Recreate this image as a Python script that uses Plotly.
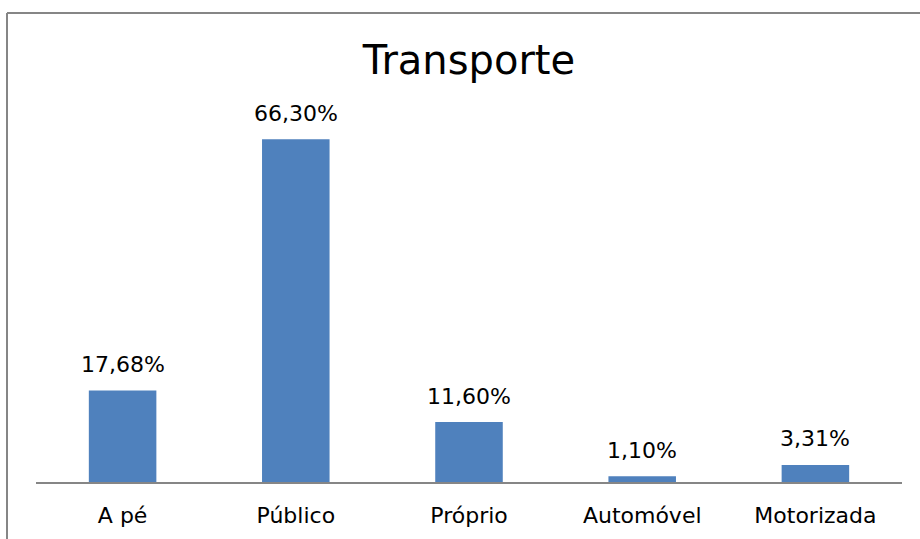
import plotly.graph_objects as go

categories = ["A pé", "Público", "Próprio", "Automóvel", "Motorizada"]
values = [17.68, 66.30, 11.60, 1.10, 3.31]
labels = ["17,68%", "66,30%", "11,60%", "1,10%", "3,31%"]

L, R, T, B = 36, 18, 120, 57
W, H = 920, 539
pw, ph = W - L - R, H - T - B
FONT = "DejaVu Sans, Verdana, sans-serif"

def px_x(x):
    return (x - L) / pw

def px_y(y):
    return (H - B - y) / ph

fig = go.Figure()
fig.add_trace(go.Bar(
    x=categories, y=values, marker=dict(color="#4F81BD", line=dict(width=0)),
    width=0.39, cliponaxis=False,
    hoverinfo="skip",
))

for c, v, t in zip(categories, values, labels):
    fig.add_annotation(x=c, y=v, text=t, showarrow=False, yanchor="middle", yshift=26,
                       font=dict(family=FONT, size=22, color="#000000"))

fig.update_layout(
    width=W, height=H,
    margin=dict(l=L, r=R, t=T, b=B, autoexpand=False),
    paper_bgcolor="white", plot_bgcolor="white",
    showlegend=False,
    title=dict(text="Transporte", x=469 / W, xanchor="center",
               y=1 - 60 / H, yanchor="middle", automargin=False,
               font=dict(family=FONT, size=40, color="#000000")),
    xaxis=dict(showgrid=False, zeroline=False, showline=True, linecolor="#868686", linewidth=2,
               ticks="", ticklabelstandoff=13, automargin=False,
               tickfont=dict(family=FONT, size=22, color="#000000")),
    yaxis=dict(range=[0, 70], visible=False, automargin=False),
    shapes=[
        dict(type="line", xref="paper", yref="paper", x0=px_x(7), x1=px_x(925), y0=px_y(13), y1=px_y(13),
             line=dict(color="#868686", width=2)),
        dict(type="line", xref="paper", yref="paper", x0=px_x(7), x1=px_x(7), y0=px_y(13), y1=px_y(545),
             line=dict(color="#868686", width=2)),
    ],
)

fig.write_html("out.html", config={"displayModeBar": False},
               post_script="document.body.style.margin='0';document.body.style.overflow='hidden';")
